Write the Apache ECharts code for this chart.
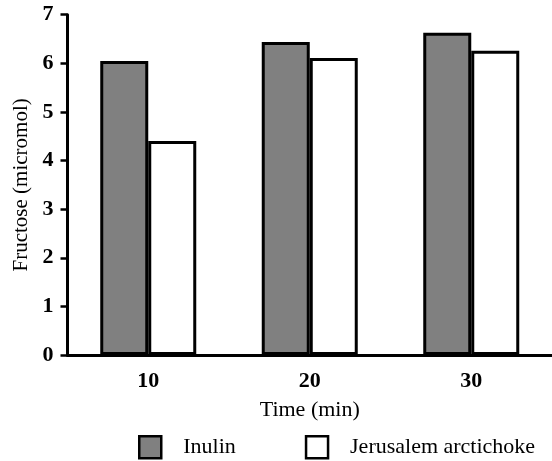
<!DOCTYPE html>
<html>
<head>
<meta charset="utf-8">
<script src="https://cdn.jsdelivr.net/npm/echarts@6/dist/echarts.min.js"></script>
<style>
html,body{margin:0;padding:0;background:#fff;}
#chart{width:552px;height:461px;}
</style>
</head>
<body>
<div id="chart"></div>
<script>
var categories = ['10', '20', '30'];
var inulin = [6.05, 6.44, 6.63];
var jerusalem = [4.40, 6.11, 6.26];
var seriesNames = ['Inulin', 'Jerusalem arctichoke'];
var yTicks = [0, 1, 2, 3, 4, 5, 6, 7];

var font = 'Liberation Serif, Times New Roman, serif';
var chart = echarts.init(document.getElementById('chart'));
chart.setOption({
  animation: false,
  backgroundColor: '#fff',
  grid: {left: 67.5, top: 14.7, width: 489, height: 340.3, containLabel: false},
  legend: {
    left: 138, top: 435, padding: 0,
    icon: 'rect',
    itemWidth: 22, itemHeight: 22, itemGap: 69,
    data: seriesNames,
    itemStyle: {borderColor: '#000', borderWidth: 2.5},
    textStyle: {fontFamily: font, fontSize: 22, color: '#000', padding: [0, 0, 0, 17]}
  },
  xAxis: {
    type: 'category',
    data: categories,
    name: 'Time (min)',
    nameLocation: 'middle',
    nameGap: 44,
    nameTextStyle: {fontFamily: font, fontSize: 22, color: '#000'},
    axisLine: {lineStyle: {color: '#000', width: 3}},
    axisTick: {alignWithLabel: true, length: 8, lineStyle: {color: '#000', width: 3}},
    axisLabel: {fontFamily: font, fontSize: 22, fontWeight: 'bold', color: '#000', margin: 15},
    splitLine: {show: false}
  },
  yAxis: {
    type: 'value',
    min: yTicks[0], max: yTicks[yTicks.length - 1], interval: 1,
    name: 'Fructose (micromol)',
    nameLocation: 'middle',
    nameGap: 35,
    nameTextStyle: {fontFamily: font, fontSize: 21, color: '#000'},
    axisLine: {show: true, lineStyle: {color: '#000', width: 3}},
    axisTick: {show: true, length: 7, lineStyle: {color: '#000', width: 2.5}},
    axisLabel: {fontFamily: font, fontSize: 22, fontWeight: 'bold', color: '#000', margin: 14},
    splitLine: {show: false}
  },
  series: [
    {
      name: seriesNames[0], type: 'bar', data: inulin,
      barWidth: 48, barGap: '0%',
      itemStyle: {color: '#808080', borderColor: '#000', borderWidth: 3}
    },
    {
      name: seriesNames[1], type: 'bar', data: jerusalem,
      barWidth: 48, barGap: '0%',
      itemStyle: {color: '#fff', borderColor: '#000', borderWidth: 3}
    }
  ]
});
</script>
</body>
</html>
